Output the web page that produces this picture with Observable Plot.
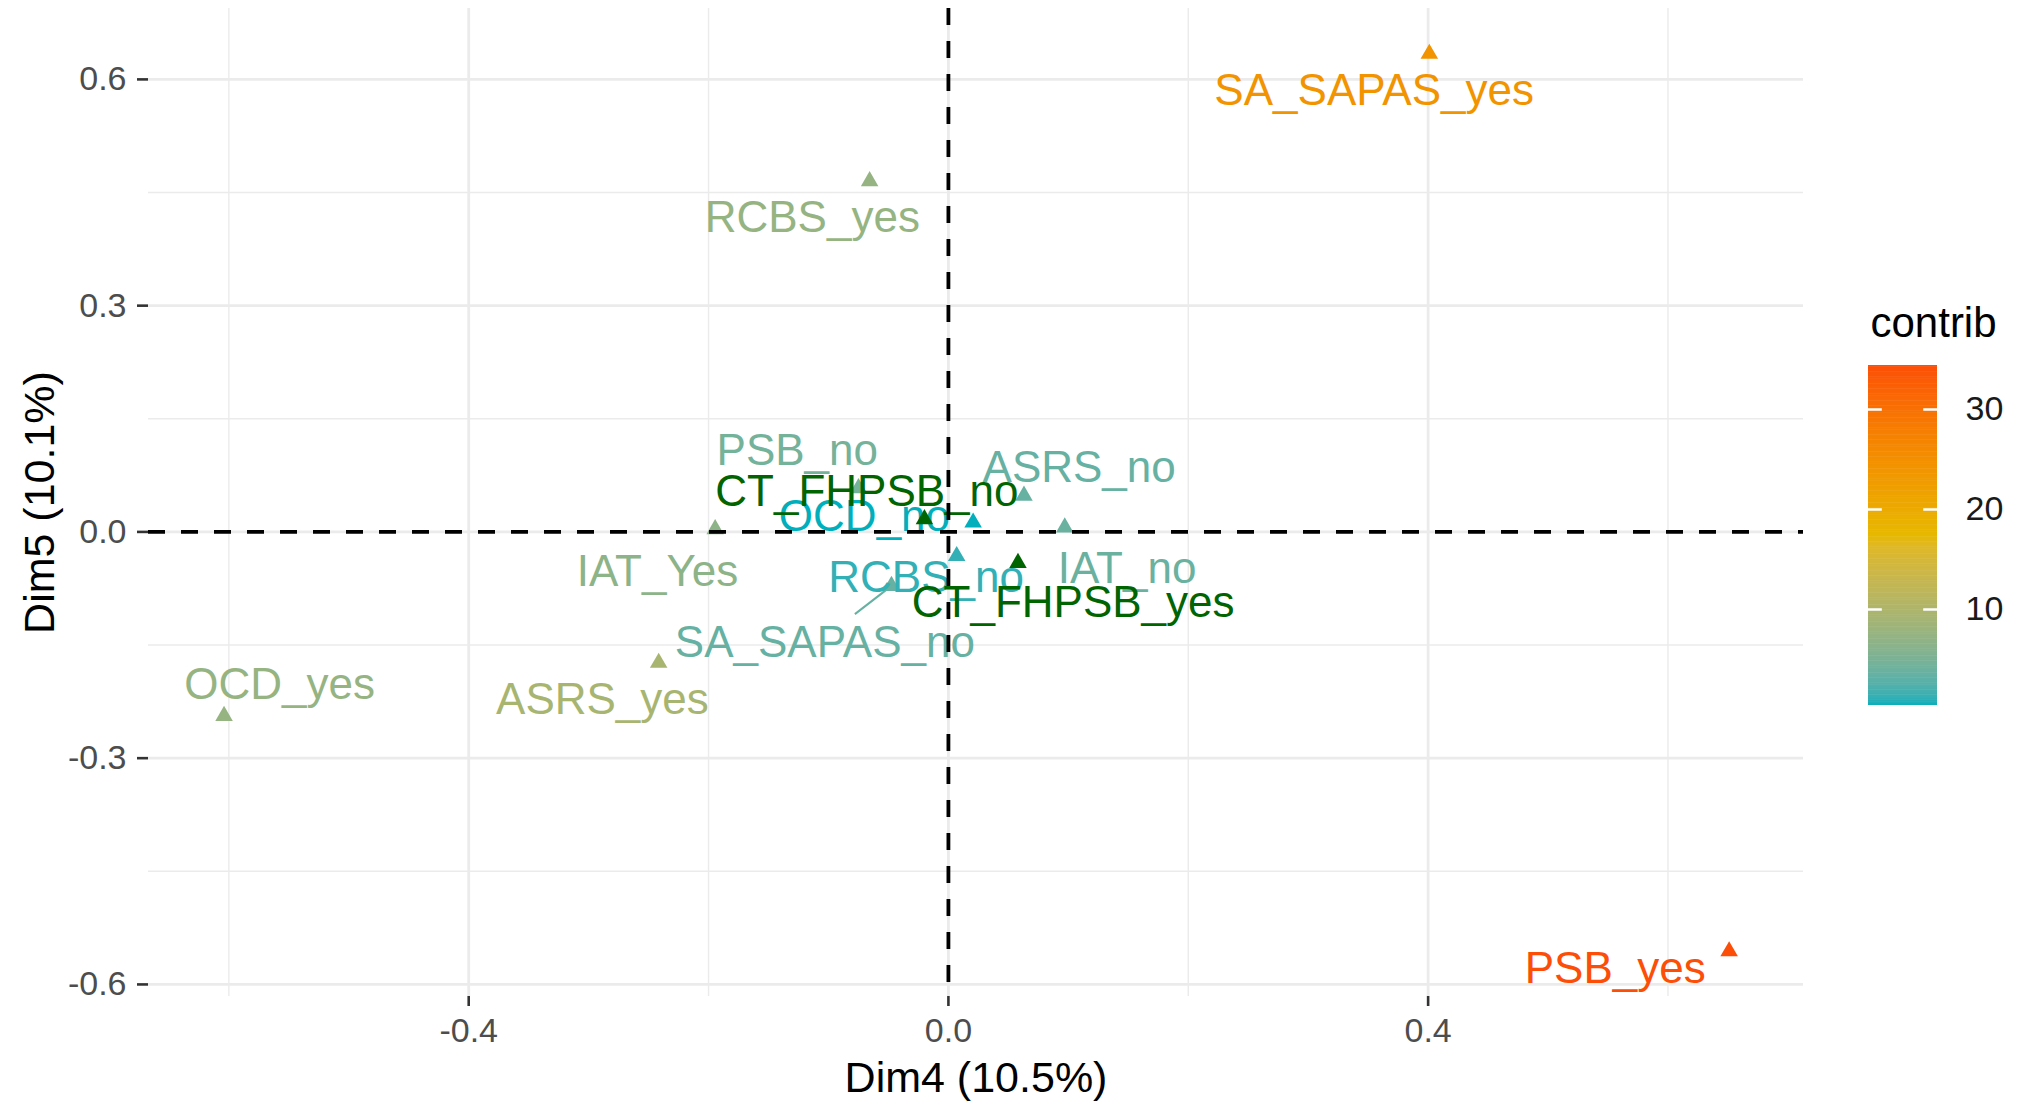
<!DOCTYPE html>
<html>
<head>
<meta charset="utf-8">
<script src="https://cdn.jsdelivr.net/npm/d3@7"></script>
<script src="https://cdn.jsdelivr.net/npm/@observablehq/plot@0.6"></script>
<style>
  body { margin: 0; background: #ffffff; }
  #wrap { position: relative; width: 2022px; height: 1102px; background: #ffffff; }
  #main { position: absolute; left: 0; top: 0; }
  #legend { position: absolute; left: 1860px; top: 290px; }
</style>
</head>
<body>
<div id="wrap"><div id="main"></div><div id="legend"></div></div>
<script>
// ---- Data ----
const categories = ["SA_SAPAS_yes", "SA_SAPAS_no", "RCBS_yes", "RCBS_no", "PSB_yes", "PSB_no",
                    "ASRS_yes", "ASRS_no", "OCD_yes", "OCD_no", "IAT_Yes", "IAT_no"];
const dim4 = [0.401, -0.0475, -0.0657, 0.0069, 0.651, -0.075, -0.2416, 0.063, -0.604, 0.0206, -0.1945, 0.097];
const dim5 = [0.634, -0.0716, 0.465, -0.032, -0.556, 0.058, -0.1735, 0.048, -0.244, 0.0124, 0.0036, 0.006];
const contrib = [24.2, 3.5, 7.3, 1.2, 34.4, 4.5, 9.3, 3.5, 7.3, 0.4, 6.6, 3.8];
// repelled label anchors (data units)
const labelDim4 = [0.355, -0.103, -0.1135, -0.0186, 0.556, -0.126, -0.2885, 0.109, -0.5577, -0.070, -0.2426, 0.149];
const labelDim5 = [0.585, -0.147, 0.4166, -0.061, -0.580, 0.107, -0.2233, 0.085, -0.203, 0.020, -0.0535, -0.049];

// supplementary categories
const supCategories = ["CT_FHPSB_no", "CT_FHPSB_yes"];
const supDim4 = [-0.020, 0.058];
const supDim5 = [0.017, -0.041];
const supLabelDim4 = [-0.068, 0.104];
const supLabelDim5 = [0.053, -0.094];

// repel segment (label edge -> point)
const segmentCategory = "SA_SAPAS_no";
const segmentFromDim4 = -0.078;
const segmentFromDim5 = -0.109;

const xTicks = [-0.4, 0, 0.4];
const xMinor = [-0.6, -0.2, 0.2, 0.6];
const yTicks = [-0.6, -0.3, 0, 0.3, 0.6];
const yMinor = [-0.45, -0.15, 0.15, 0.45];
const legendTicks = [10, 20, 30];
const gradientColors = ["#00AFBB", "#E7B800", "#FC4E07"];

// ---- Tables ----
const active = categories.map((c, i) => ({category: c, dim4: dim4[i], dim5: dim5[i], contrib: contrib[i],
  lx: labelDim4[i], ly: labelDim5[i]}));
const sup = supCategories.map((c, i) => ({category: c, dim4: supDim4[i], dim5: supDim5[i],
  lx: supLabelDim4[i], ly: supLabelDim5[i]}));
const segIdx = categories.indexOf(segmentCategory);
const segs = [{x1: segmentFromDim4, y1: segmentFromDim5, x2: dim4[segIdx], y2: dim5[segIdx], contrib: contrib[segIdx]}];

const lo = d3.min(contrib), hi = d3.max(contrib);
const colorScale = {type: "linear", domain: [lo, (lo + hi) / 2, hi], range: gradientColors, interpolate: "lab"};
const font = "'Liberation Sans', Arial, Helvetica, sans-serif";
const fmt = d => d.toFixed(1);

const main = Plot.plot({
  width: 2022, height: 1102,
  marginLeft: 148, marginRight: 219, marginTop: 8, marginBottom: 106,
  style: {fontFamily: font, background: "transparent"},
  x: {domain: [-0.667, 0.713]},
  y: {domain: [-0.616, 0.694]},
  color: colorScale,
  marks: [
    Plot.ruleX(xMinor, {stroke: "#EBEBEB", strokeWidth: 1.4}),
    Plot.ruleY(yMinor, {stroke: "#EBEBEB", strokeWidth: 1.4}),
    Plot.ruleX(xTicks, {stroke: "#EBEBEB", strokeWidth: 2.8}),
    Plot.ruleY(yTicks, {stroke: "#EBEBEB", strokeWidth: 2.8}),
    Plot.axisX(xTicks, {tickSize: 10, tickPadding: 11, fontSize: 34, tickFormat: fmt, label: null,
      stroke: "#333333", strokeWidth: 2.6, fill: "#4D4D4D"}),
    Plot.axisY(yTicks, {tickSize: 11, tickPadding: 11, fontSize: 34, tickFormat: fmt, label: null,
      stroke: "#333333", strokeWidth: 2.6, fill: "#4D4D4D"}),
    Plot.dot(active, {x: "dim4", y: "dim5", fill: "contrib", symbol: "triangle", r: 6.5}),
    Plot.link(segs, {x1: "x1", y1: "y1", x2: "x2", y2: "y2", stroke: "contrib", strokeWidth: 2}),
    Plot.text(active, {x: "lx", y: "ly", text: "category", fill: "contrib", fontSize: 44}),
    Plot.dot(sup, {x: "dim4", y: "dim5", fill: "#006400", symbol: "triangle", r: 6.5}),
    Plot.text(sup, {x: "lx", y: "ly", text: "category", fill: "#006400", fontSize: 44}),
    Plot.ruleX([0], {stroke: "black", strokeWidth: 3.8, strokeDasharray: "17,16"}),
    Plot.ruleY([0], {stroke: "black", strokeWidth: 3.8, strokeDasharray: "17,16"}),
    Plot.text(["Dim4 (10.5%)"], {frameAnchor: "bottom", textAnchor: "middle", lineAnchor: "middle",
      dy: 82, fontSize: 43, fill: "black"}),
    Plot.text(["Dim5 (10.1%)"], {frameAnchor: "left", textAnchor: "middle", lineAnchor: "middle",
      dx: -108, rotate: -90, fontSize: 43, fill: "black"})
  ]
});
document.getElementById("main").appendChild(main);

// ---- Colour bar legend ----
const nBands = 200;
const bands = d3.range(nBands).map(i => ({
  y1: lo + (hi - lo) * i / nBands,
  y2: Math.min(hi, lo + (hi - lo) * (i + 1.3) / nBands),
  v: lo + (hi - lo) * (i + 0.5) / nBands
}));

const legend = Plot.plot({
  width: 162, height: 420,
  marginLeft: 8, marginRight: 85, marginTop: 75, marginBottom: 5,
  style: {fontFamily: font, background: "transparent", overflow: "visible"},
  x: {domain: [0, 1], axis: null},
  y: {domain: [lo, hi]},
  color: colorScale,
  marks: [
    Plot.rect(bands, {x1: 0, x2: 1, y1: "y1", y2: "y2", fill: "v"}),
    Plot.ruleY(legendTicks, {x1: 0, x2: 0.2, stroke: "white", strokeWidth: 2.5}),
    Plot.ruleY(legendTicks, {x1: 0.8, x2: 1, stroke: "white", strokeWidth: 2.5}),
    Plot.axisY(legendTicks, {anchor: "right", tickSize: 0, tickPadding: 28, fontSize: 34, label: null,
      fill: "#1a1a1a", tickFormat: d => String(d)}),
    Plot.text(["contrib"], {frameAnchor: "top-left", textAnchor: "start", lineAnchor: "middle",
      dx: 2, dy: -42, fontSize: 42, fill: "black"})
  ]
});
document.getElementById("legend").appendChild(legend);
</script>
</body>
</html>
